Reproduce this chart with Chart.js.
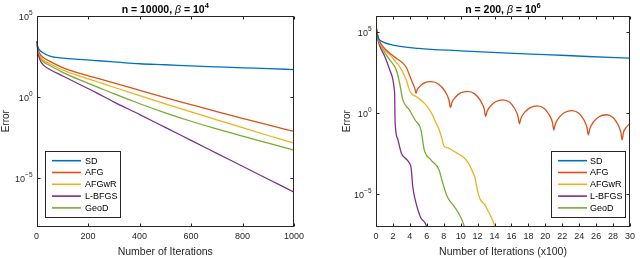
<!DOCTYPE html>
<html>
<head>
<meta charset="utf-8">
<script src="https://cdn.jsdelivr.net/npm/chart.js@4.4.0/dist/chart.umd.min.js"></script>
<style>
html, body { margin: 0; padding: 0; background: #fff; }
#painel { position: relative; width: 640px; height: 258px; }
canvas { position: absolute; top: 0; }
</style>
</head>
<body>
<div id="painel">
  <canvas id="graficoEsq" width="320" height="258" style="left:0"></canvas>
  <canvas id="graficoDir" width="320" height="258" style="left:320px"></canvas>
</div>
<script>
// -------------------------------------------------------------
// DADOS (erro guardado como log10)
// -------------------------------------------------------------
const nomes = ['SD', 'AFG', 'AFGwR', 'L-BFGS', 'GeoD'];
const cores = ['#0072BD', '#D95319', '#EDB120', '#7E2F8E', '#77AC30'];
const expoentesY = [-5, 0, 5];

// painel esquerdo: n = 10000, beta = 10^4
const iterEsq = [0, 5, 12, 25, 52, 104, 168, 230, 300, 401, 500, 600, 700, 800, 900, 1000];
const sdEsq     = [3.45, 3.10, 2.90, 2.73, 2.52, 2.40, 2.32, 2.25, 2.17, 2.05, 1.99, 1.92, 1.86, 1.80, 1.75, 1.69];
const afgEsq    = [3.45, 3.00, 2.70, 2.45, 2.20, 1.80, 1.45, 1.18, 0.87, 0.40, -0.04, -0.47, -0.90, -1.32, -1.73, -2.13];
const afgwrEsq  = [3.45, 2.95, 2.60, 2.30, 2.05, 1.65, 1.28, 0.97, 0.60, 0.08, -0.42, -0.92, -1.41, -1.90, -2.38, -2.85];
const lbfgsEsq  = [3.45, 2.85, 2.35, 2.00, 1.70, 1.28, 0.77, 0.28, -0.30, -1.09, -1.88, -2.68, -3.48, -4.28, -5.08, -5.88];
const geodEsq   = [3.45, 2.90, 2.50, 2.20, 1.94, 1.50, 1.05, 0.66, 0.20, -0.42, -0.98, -1.50, -1.97, -2.42, -2.85, -3.28];
const ticksXEsq = [0, 200, 400, 600, 800, 1000];

// painel direito: n = 200, beta = 10^6 (iterações x100)
const sdDirX    = [0, 0.3, 0.8, 2, 5, 10, 15, 20, 25, 30];
const sdDirY    = [5.05, 4.60, 4.40, 4.20, 4.00, 3.85, 3.72, 3.62, 3.50, 3.40];
const afgDirX   = [0, 0.3, 0.85, 1.63, 2.5, 3.17, 3.6, 3.95, 4.3, 4.6, 4.73,
                   4.87, 5.26, 5.78, 6.48, 7.41, 8.1, 8.61, 8.8,
                   8.96, 9.4, 10.0, 10.8, 11.66, 12.3, 12.78, 12.95,
                   13.11, 13.57, 14.18, 15.0, 15.78, 16.36, 16.78, 16.94,
                   17.11, 17.58, 18.22, 19.07, 19.84, 20.42, 20.85, 21.0,
                   21.17, 21.64, 22.28, 23.14, 23.92, 24.5, 24.92, 25.08,
                   25.25, 25.72, 26.35, 27.2, 27.95, 28.51, 28.92, 29.07,
                   29.22, 29.6, 30];
const afgDirY   = [5.40, 4.60, 4.10, 3.70, 3.35, 3.09, 2.80, 2.36, 1.90, 1.50, 1.23,
                   1.45, 1.70, 1.88, 1.95, 1.79, 1.39, 0.83, 0.35,
                   0.65, 1.00, 1.25, 1.35, 1.19, 0.80, 0.26, -0.21,
                   0.10, 0.46, 0.72, 0.82, 0.67, 0.30, -0.22, -0.66,
                   -0.33, 0.06, 0.34, 0.45, 0.30, -0.07, -0.59, -1.04,
                   -0.68, -0.26, 0.04, 0.16, 0.01, -0.37, -0.89, -1.34,
                   -0.97, -0.53, -0.22, -0.10, -0.25, -0.64, -1.18, -1.65,
                   -1.20, -0.85, -0.62];
const afgwrDirX = [0, 0.3, 0.85, 1.63, 2.2, 2.79, 3.2, 3.57, 3.9, 4.15, 4.73, 5.7, 6.2, 6.66, 7.0, 7.44, 7.8, 8.02,
                   8.5, 9.57, 10.4, 10.93, 11.3, 11.7, 12.0, 12.29, 12.87, 13.3, 13.84, 14.03, 14.2];
const afgwrDirY = [5.40, 4.50, 4.00, 3.60, 3.25, 2.88, 2.50, 2.06, 1.50, 1.23, 1.03, 0.62, 0.30, -0.10, -0.50, -1.00, -1.60, -2.02,
                   -2.15, -2.47, -2.75, -3.09, -3.50, -4.01, -4.80, -5.31, -5.66, -6.10, -6.69, -7.00, -7.30];
const lbfgsDirX = [0, 0.2, 0.47, 1.05, 1.63, 2.0, 2.15, 2.21, 2.23, 2.33, 2.6, 2.99, 3.5, 3.95, 4.15, 4.34, 4.73, 5.31, 5.81, 5.97, 6.1];
const lbfgsDirY = [5.40, 4.60, 4.11, 3.49, 2.67, 2.06, 1.50, 1.00, 0.00, -1.03, -1.65, -2.47, -2.80, -3.09, -3.40, -4.53, -5.56, -6.48, -6.79, -7.00, -7.30];
const geodDirX  = [0, 0.3, 0.85, 1.63, 2.4, 2.79, 3.17, 3.95, 4.6, 5.31, 5.7, 6.48, 7.44, 7.83, 8.41, 9.38, 10.15, 10.43, 10.6];
const geodDirY  = [5.40, 4.50, 3.90, 3.29, 2.67, 1.85, 0.82, 0.20, -0.41, -1.03, -2.27, -2.88, -3.50, -4.22, -5.15, -5.86, -6.59, -7.00, -7.30];
const ticksXDir = [0, 2, 4, 6, 8, 10, 12, 14, 16, 18, 20, 22, 24, 26, 28, 30];

// -------------------------------------------------------------
// DESENHO
// -------------------------------------------------------------
const fonte = 'Liberation Sans, Arial, Helvetica, sans-serif';
const corEixo = '#262626';

function pontos(xs, ys) {
    return xs.map((x, i) => ({ x: x, y: Math.pow(10, ys[i]) }));
}

function linha(ctx, x0, y0, x1, y1) {
    ctx.beginPath(); ctx.moveTo(x0, y0); ctx.lineTo(x1, y1); ctx.stroke();
}

function textoPartes(ctx, partes, xCentro, yBase) {
    let total = 0;
    partes.forEach(p => { ctx.font = p.f; total += ctx.measureText(p.t).width; });
    let x = xCentro - total / 2;
    ctx.textAlign = 'left'; ctx.textBaseline = 'alphabetic';
    partes.forEach(p => {
        ctx.font = p.f;
        ctx.fillText(p.t, x, yBase + (p.dy || 0));
        x += ctx.measureText(p.t).width;
    });
}

// moldura estilo MATLAB, rótulos do eixo y, título e legenda
const pluginQuadro = {
    id: 'quadro',
    afterDraw(chart, args, opts) {
        const { ctx, chartArea: a, scales: { x, y } } = chart;
        const L = Math.round(a.left) + 0.5, R = Math.round(a.right) - 0.5;
        const T = Math.round(a.top) + 0.5, B = Math.round(a.bottom) - 0.5;
        ctx.save();
        ctx.strokeStyle = corEixo; ctx.lineWidth = 1;
        ctx.strokeRect(L, T, R - L, B - T);
        x.ticks.forEach(t => {
            const px = Math.round(x.getPixelForValue(t.value)) + 0.5;
            linha(ctx, px, B, px, B - 3);
            linha(ctx, px, T, px, T + 3);
        });
        ctx.fillStyle = corEixo;
        y.ticks.forEach(t => {
            const py = Math.round(y.getPixelForValue(t.value)) + 0.5;
            linha(ctx, L, py, L + 3, py);
            linha(ctx, R, py, R - 3, py);
            const exp = String(Math.round(Math.log10(t.value))).replace('-', '\u2212');
            ctx.font = '9px ' + fonte;
            const w1 = ctx.measureText('10').width;
            ctx.font = '6.5px ' + fonte;
            const w2 = ctx.measureText(exp).width;
            const x0 = L - 5 - w1 - w2;
            ctx.textAlign = 'left'; ctx.textBaseline = 'alphabetic';
            ctx.font = '9px ' + fonte;
            ctx.fillText('10', x0, py + 3.5);
            ctx.font = '6.5px ' + fonte;
            ctx.fillText(exp, x0 + w1, py - 1.5);
        });

        // título
        ctx.fillStyle = '#000';
        const fb = 'bold 10.5px ' + fonte;
        textoPartes(ctx, [
            { t: opts.titulo[0], f: fb },
            { t: '\u03B2', f: 'italic 10.5px ' + fonte },
            { t: ' = 10', f: fb },
            { t: opts.titulo[1], f: 'bold 7.5px ' + fonte, dy: -4.5 }
        ], (a.left + a.right) / 2, 12.5);

        // legenda
        const lg = opts.legenda;
        ctx.fillStyle = '#fff';
        ctx.fillRect(lg.x0, lg.y0, lg.x1 - lg.x0, lg.y1 - lg.y0);
        ctx.strokeStyle = corEixo;
        ctx.strokeRect(lg.x0 + 0.5, lg.y0 + 0.5, lg.x1 - lg.x0, lg.y1 - lg.y0);
        chart.data.datasets.forEach((ds, i) => {
            const yy = lg.yLinha + i * 11.8;
            ctx.strokeStyle = ds.borderColor; ctx.lineWidth = 1.6;
            linha(ctx, lg.xl0, yy, lg.xl1, yy);
            ctx.fillStyle = '#000';
            ctx.font = '9px ' + fonte;
            ctx.textAlign = 'left'; ctx.textBaseline = 'middle';
            ctx.fillText(ds.label, lg.xt, yy + 0.5);
        });
        ctx.restore();
    }
};

function criarGrafico(idCanvas, cfg) {
    const ctx = document.getElementById(idCanvas).getContext('2d');
    return new Chart(ctx, {
        type: 'line',
        data: {
            datasets: cfg.series.map((s, i) => ({
                label: nomes[i],
                data: pontos(s[0], s[1]),
                borderColor: cores[i],
                backgroundColor: cores[i],
                borderWidth: 1.3,
                pointRadius: 0,
                fill: false,
                cubicInterpolationMode: 'monotone'
            }))
        },
        options: {
            responsive: false,
            animation: false,
            events: [],
            layout: { padding: { left: cfg.padEsq, right: cfg.padDir, top: 16, bottom: 0 } },
            plugins: {
                legend: { display: false },
                tooltip: { enabled: false },
                quadro: { titulo: cfg.titulo, legenda: cfg.legenda }
            },
            scales: {
                x: {
                    type: 'linear', min: 0, max: cfg.xMax,
                    afterBuildTicks: s => { s.ticks = cfg.ticksX.map(v => ({ value: v })); },
                    afterFit: s => { s.height = 31.5; },
                    grid: { display: false, drawTicks: false },
                    border: { display: false },
                    ticks: {
                        autoSkip: false, maxRotation: 0, padding: 5, color: corEixo,
                        font: { family: fonte, size: 9 },
                        callback: v => String(v)
                    },
                    title: { display: true, text: cfg.xTitulo, color: corEixo, padding: 0, font: { family: fonte, size: 10.5 } }
                },
                y: {
                    type: 'logarithmic', min: cfg.yMin, max: cfg.yMax,
                    afterBuildTicks: s => { s.ticks = expoentesY.map(e => ({ value: Math.pow(10, e) })); },
                    afterFit: s => { s.width = cfg.yLargura; },
                    grid: { display: false, drawTicks: false },
                    border: { display: false },
                    ticks: { display: false },
                    title: { display: true, text: 'Error', color: corEixo, padding: 0, font: { family: fonte, size: 10 } }
                }
            }
        },
        plugins: [pluginQuadro]
    });
}

criarGrafico('graficoEsq', {
    series: [[iterEsq, sdEsq], [iterEsq, afgEsq], [iterEsq, afgwrEsq], [iterEsq, lbfgsEsq], [iterEsq, geodEsq]],
    xMax: 1000, ticksX: ticksXEsq, yMin: 1e-8, yMax: 1e5,
    padEsq: 0, padDir: 26, yLargura: 36.5,
    xTitulo: 'Number of Iterations',
    titulo: ['n = 10000, ', '4'],
    legenda: { x0: 45, y0: 151, x1: 120, y1: 217, xl0: 52, xl1: 81, xt: 85, yLinha: 160.7 }
});

criarGrafico('graficoDir', {
    series: [[sdDirX, sdDirY], [afgDirX, afgDirY], [afgwrDirX, afgwrDirY], [lbfgsDirX, lbfgsDirY], [geodDirX, geodDirY]],
    xMax: 30, ticksX: ticksXDir, yMin: 1e-7, yMax: 1e6,
    padEsq: 21, padDir: 6, yLargura: 35,
    xTitulo: 'Number of Iterations (x100)',
    titulo: ['n = 200, ', '6'],
    legenda: { x0: 231, y0: 151, x1: 305, y1: 217, xl0: 238, xl1: 267, xt: 270, yLinha: 160.7 }
});
</script>
</body>
</html>
